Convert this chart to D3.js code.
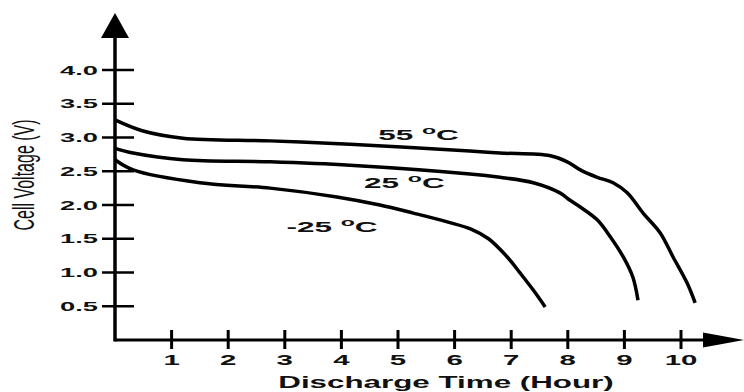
<!DOCTYPE html>
<html>
<head>
<meta charset="utf-8">
<script src="https://cdn.jsdelivr.net/npm/d3@7"></script>
<style>
  body { margin: 0; background: #fff; }
  svg { display: block; }
  text { font-family: "Liberation Sans", Arial, sans-serif; fill: #111; }
</style>
</head>
<body>
<script>
// values (hours, volts)
const hours55 = [0, 0.48, 1.2, 2.74, 4.15, 6.27, 6.8, 7.69, 7.99, 8.22, 8.52, 8.8, 9.05, 9.33, 9.63, 9.86, 10.11, 10.25];
const volts55 = [3.26, 3.10, 2.99, 2.95, 2.90, 2.80, 2.77, 2.73, 2.64, 2.52, 2.41, 2.33, 2.18, 1.88, 1.59, 1.23, 0.84, 0.55];

const hours25 = [0, 0.32, 1.2, 2.74, 4.15, 6.27, 6.8, 7.39, 7.86, 8.04, 8.22, 8.52, 8.75, 8.98, 9.15, 9.24];
const volts25 = [2.84, 2.77, 2.67, 2.64, 2.59, 2.46, 2.41, 2.33, 2.18, 2.07, 1.97, 1.78, 1.53, 1.23, 0.93, 0.59];

const hoursM25 = [0, 0.32, 1.5, 2.74, 3.92, 4.68, 5.27, 5.87, 6.3, 6.6, 6.93, 7.16, 7.39, 7.6];
const voltsM25 = [2.67, 2.52, 2.33, 2.25, 2.12, 2.0, 1.88, 1.75, 1.64, 1.50, 1.23, 0.99, 0.74, 0.49];

const yTicks = [0.5, 1.0, 1.5, 2.0, 2.5, 3.0, 3.5, 4.0];
const xTicks = [1, 2, 3, 4, 5, 6, 7, 8, 9, 10];
const curveLabels = ["55", "25", "-25"];
const labelAt = [[4.65, 2.97], [4.4, 2.25], [3.03, 1.6]]; // hours, volts of label baseline start

const width = 744, height = 392;
const stretch = 2.1; // the picture's text is wide

const svg = d3.select("body").append("svg")
    .attr("width", width)
    .attr("height", height);

const x = d3.scaleLinear().domain([0, 10]).range([115, 681]);
const y = d3.scaleLinear().domain([0, 4]).range([340, 70]);

// axes
const g = svg.append("g");
g.append("line")
    .attr("x1", x(0)).attr("x2", x(0))
    .attr("y1", y(0) + 1.5).attr("y2", 36)
    .attr("stroke", "#000").attr("stroke-width", 3.5);
g.append("path")
    .attr("d", `M${x(0)},13 L${x(0) - 14},38 L${x(0) + 14},38 Z`)
    .attr("fill", "#000");

g.append("line")
    .attr("x1", x(0)).attr("x2", 705)
    .attr("y1", y(0)).attr("y2", y(0))
    .attr("stroke", "#000").attr("stroke-width", 3);
g.append("path")
    .attr("d", `M744,${y(0)} L703,${y(0) - 7.5} L703,${y(0) + 7.5} Z`)
    .attr("fill", "#000");

// y ticks
g.selectAll(".ytick").data(yTicks).enter().append("line")
    .attr("class", "ytick")
    .attr("x1", x(0) - 13).attr("x2", x(0) + 19)
    .attr("y1", d => y(d)).attr("y2", d => y(d))
    .attr("stroke", "#000").attr("stroke-width", 2.5);

g.selectAll(".ylab").data(yTicks).enter().append("text")
    .attr("class", "ylab")
    .attr("transform", d => `translate(98,${y(d) + 4.5}) scale(${stretch},1)`)
    .attr("text-anchor", "end")
    .style("font-size", "13px")
    .style("font-weight", "bold")
    .text(d => d3.format(".1f")(d));

// x ticks
g.selectAll(".xtick").data(xTicks).enter().append("line")
    .attr("class", "xtick")
    .attr("x1", d => x(d)).attr("x2", d => x(d))
    .attr("y1", y(0) - 10).attr("y2", y(0) + 9)
    .attr("stroke", "#000").attr("stroke-width", 3);

g.selectAll(".xlab").data(xTicks).enter().append("text")
    .attr("class", "xlab")
    .attr("transform", d => `translate(${x(d)},365) scale(${stretch},1)`)
    .attr("text-anchor", "middle")
    .style("font-size", "14px")
    .style("font-weight", "bold")
    .text(d => d);

// axis titles
svg.append("text")
    .attr("transform", `translate(446,388) scale(1.96,1)`)
    .attr("text-anchor", "middle")
    .style("font-size", "16px")
    .style("font-weight", "bold")
    .text("Discharge Time (Hour)");

svg.append("text")
    .attr("transform", `translate(34,175) scale(1.9,1) rotate(-90)`)
    .attr("text-anchor", "middle")
    .style("font-size", "16px")
    .text("Cell Voltage (V)");

// curves
const series = [
    hours55.map((h, i) => [h, volts55[i]]),
    hours25.map((h, i) => [h, volts25[i]]),
    hoursM25.map((h, i) => [h, voltsM25[i]])
];

const line = d3.line()
    .x(d => x(d[0]))
    .y(d => y(d[1]))
    .curve(d3.curveCatmullRom.alpha(0.5));

svg.selectAll(".curve").data(series).enter().append("path")
    .attr("class", "curve")
    .attr("d", line)
    .attr("fill", "none")
    .attr("stroke", "#000")
    .attr("stroke-width", 3.5)
    .attr("stroke-linejoin", "round");

// temperature labels
const lab = svg.selectAll(".tlab").data(curveLabels).enter().append("text")
    .attr("class", "tlab")
    .attr("transform", (d, i) => `translate(${x(labelAt[i][0])},${y(labelAt[i][1])}) scale(${stretch},1)`)
    .style("font-size", "15px")
    .style("font-weight", "bold");
lab.append("tspan").text(d => d + " ");
lab.append("tspan").attr("dy", -6).style("font-size", "11px").text("o");
lab.append("tspan").attr("dy", 6).text("C");
</script>
</body>
</html>
